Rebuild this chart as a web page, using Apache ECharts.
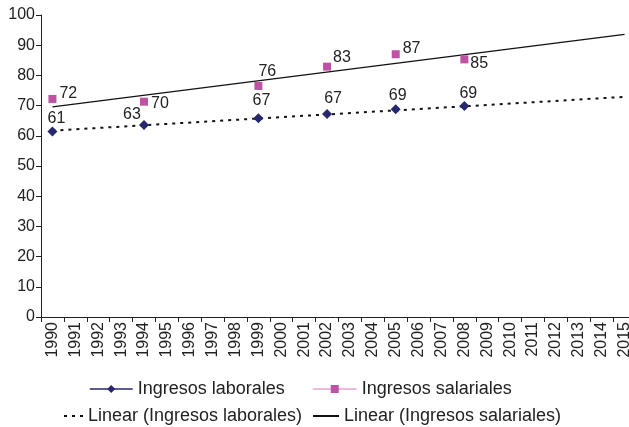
<!DOCTYPE html>
<html>
<head>
<meta charset="utf-8">
<script src="https://cdn.jsdelivr.net/npm/echarts@6/dist/echarts.min.js"></script>
<style>html,body{margin:0;padding:0;background:#fff}#c{width:629px;height:427px}</style>
</head>
<body>
<div id="c"></div>
<script>
const years = ['1990','1991','1992','1993','1994','1995','1996','1997','1998','1999','2000','2001','2002','2003','2004','2005','2006','2007','2008','2009','2010','2011','2012','2013','2014','2015'];
const obsYears = ['1990','1994','1999','2002','2005','2008'];
const laboralesValues = [61.4, 63.6, 65.8, 67.2, 68.8, 69.9];
const laboralesLabels = ['61','63','67','67','69','69'];
const salarialesValues = [72.2, 71.3, 76.5, 82.9, 87.0, 85.3];
const salarialesLabels = ['72','70','76','83','87','85'];
const trendYears = ['1990','2015'];
const trendLaborales = [61.7, 72.9];
const trendSalariales = [69.6, 93.6];

// label offsets (style only)
const labOffsets = [[4,5],[-12,8],[3,0],[6,3],[2,4],[4,6]];
const salOffsets = [[0,-5],[0,2],[-7,-14],[-1,-9],[0,-6],[-1,4]];

const FONT = "'Liberation Sans', Arial, sans-serif";
const NAVY = '#27276f';
const PINK = '#c052a6';

const chart = echarts.init(document.getElementById('c'), null, {renderer:'canvas'});

const labData = obsYears.map((y,i)=>({value:[y, laboralesValues[i]], label:{formatter: laboralesLabels[i], offset: labOffsets[i]}}));
const salData = obsYears.map((y,i)=>({value:[y, salarialesValues[i]], label:{formatter: salarialesLabels[i], offset: salOffsets[i]}}));

const legendText = {fontSize:18, color:'#222', fontFamily: FONT};

chart.setOption({
  animation:false,
  textStyle:{fontFamily:FONT},
  grid:{left:41, top:15, width:595, height:302, containLabel:false, outerBoundsMode:'none'},
  xAxis:{
    type:'category', data:years, boundaryGap:true,
    axisLine:{lineStyle:{color:'#222', width:1}},
    axisTick:{show:true, interval:0, length:5, lineStyle:{color:'#222'}},
    axisLabel:{interval:0, rotate:90, fontSize:16, color:'#222', margin:5, fontFamily:FONT},
    splitLine:{show:false}
  },
  yAxis:{
    type:'value', min:0, max:100, interval:10,
    axisLine:{show:true, lineStyle:{color:'#222', width:1}},
    axisTick:{show:true, length:5, lineStyle:{color:'#222'}},
    axisLabel:{fontSize:16, color:'#222', margin:6, fontFamily:FONT},
    splitLine:{show:false}
  },
  legend:[
    {data:['Ingresos laborales'], left:89, top:380, padding:0, itemWidth:43, itemHeight:10, textStyle:legendText, lineStyle:{width:1.5, opacity:1, color:NAVY}},
    {data:['Ingresos salariales'], left:312, top:380, padding:0, itemWidth:44, itemHeight:10, textStyle:legendText, lineStyle:{width:1.5, opacity:1, color:'#e3a3d4'}},
    {data:['Linear (Ingresos laborales)'], left:63, top:407, padding:0, itemWidth:19, itemHeight:10, textStyle:legendText, itemStyle:{opacity:0}},
    {data:['Linear (Ingresos salariales)'], left:312, top:407, padding:0, itemWidth:26, itemHeight:10, textStyle:legendText, itemStyle:{opacity:0}}
  ],
  series:[
    {
      name:'Linear (Ingresos laborales)', type:'line', symbol:'none',
      data: trendYears.map((y,i)=>[y, trendLaborales[i]]),
      lineStyle:{color:'#111', width:2, type:[3,5]}, itemStyle:{color:'#111'}, z:1
    },
    {
      name:'Linear (Ingresos salariales)', type:'line', symbol:'none',
      data: trendYears.map((y,i)=>[y, trendSalariales[i]]),
      lineStyle:{color:'#111', width:1.3}, itemStyle:{color:'#111'}, z:1
    },
    {
      name:'Ingresos laborales', type:'line', symbol:'diamond', symbolSize:10,
      data: labData,
      lineStyle:{opacity:0, width:0}, itemStyle:{color:NAVY},
      label:{show:true, position:'top', distance:5, fontSize:16, color:'#222', fontFamily:FONT},
      z:3
    },
    {
      name:'Ingresos salariales', type:'line', symbol:'rect', symbolSize:8,
      data: salData,
      lineStyle:{opacity:0, width:0}, itemStyle:{color:PINK},
      label:{show:true, position:'right', distance:3, fontSize:16, color:'#222', fontFamily:FONT},
      z:3
    }
  ]
});
</script>
</body>
</html>
